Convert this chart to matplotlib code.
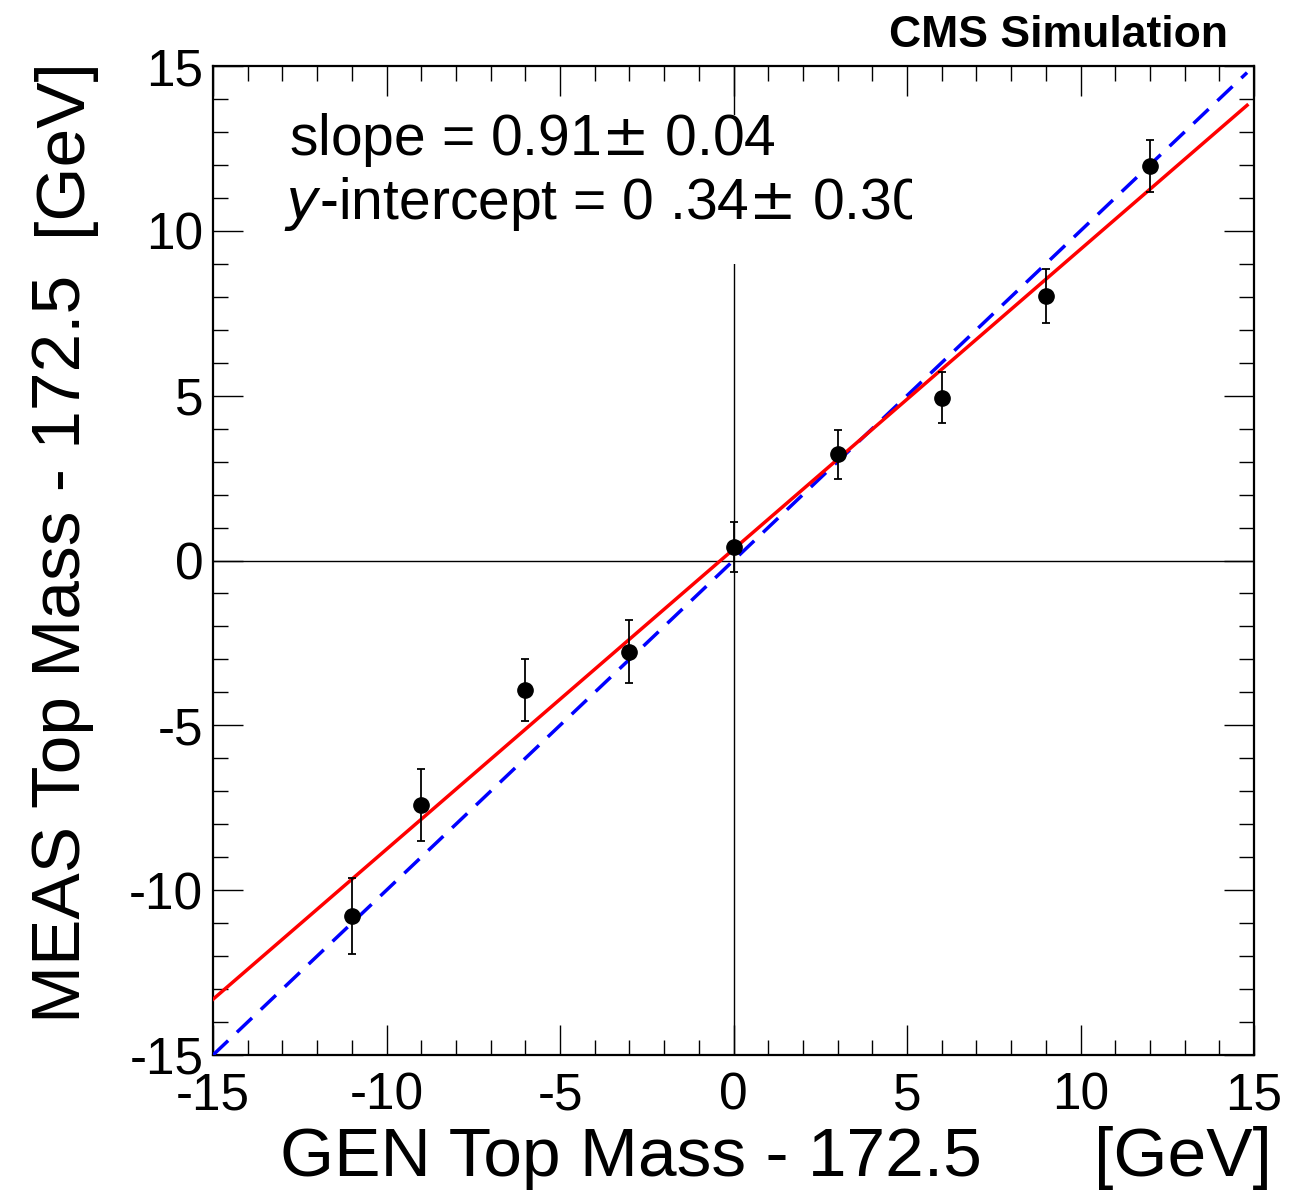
import matplotlib.pyplot as plt
from matplotlib.ticker import MultipleLocator
from matplotlib.patches import Rectangle
from matplotlib.transforms import Bbox, TransformedBbox

plt.rcParams['font.family'] = ['Liberation Sans', 'DejaVu Sans']
plt.rcParams['axes.unicode_minus'] = False

# generated top mass shifts and measured values (GeV, relative to 172.5)
gen = [-11, -9, -6, -3, 0, 3, 6, 9, 12]
meas = [-10.78, -7.42, -3.93, -2.77, 0.42, 3.22, 4.94, 8.02, 11.97]
meas_err = [1.16, 1.09, 0.94, 0.95, 0.76, 0.74, 0.78, 0.82, 0.80]

# linear fit result shown in the box
fit_slope = 0.91
fit_intercept = 0.34
fit_range = [-15, 14.8]
ideal_range = [-15, 14.8]

fig = plt.figure(figsize=(13.09, 11.90), dpi=100)
ax = fig.add_axes([213/1309, 1 - 1055/1190, (1254 - 213)/1309, (1055 - 66)/1190])

ax.set_xlim(-15, 15)
ax.set_ylim(-15, 15)

ax.axhline(0, color='black', lw=1.0, zorder=1)
ax.axvline(0, color='black', lw=1.0, zorder=1)

# white pave behind the fit text (hides the zero line)
ax.add_patch(Rectangle((-13.8, 9.0), 18.94, 4.5, facecolor='white',
                       edgecolor='none', zorder=2))

ax.plot(ideal_range, ideal_range, color='blue', lw=2.5, ls=(0, (6, 3.5)), zorder=3)
fit_y = [fit_slope * x + fit_intercept for x in fit_range]
ax.plot(fit_range, fit_y, color='red', lw=2.5, zorder=4)

ax.errorbar(gen, meas, yerr=meas_err, fmt='o', color='black', ms=11,
            elinewidth=1.3, capsize=3, capthick=1.3, zorder=5)

ax.xaxis.set_major_locator(MultipleLocator(5))
ax.yaxis.set_major_locator(MultipleLocator(5))
ax.xaxis.set_minor_locator(MultipleLocator(1))
ax.yaxis.set_minor_locator(MultipleLocator(1))
ax.tick_params(which='both', direction='in', top=True, right=True, width=1.0)
ax.tick_params(which='major', length=21.6)
ax.tick_params(which='minor', length=10.8)
ax.tick_params(axis='x', labelsize=37, pad=12)
ax.tick_params(axis='y', labelsize=37, pad=7)
for s in ax.spines.values():
    s.set_linewidth(1.6)

# the pave cuts the text off on its right side
clip = TransformedBbox(Bbox([[-15, -15], [5.14, 15]]), ax.transData)
t1 = ax.text(-12.8, 12.3, 'slope = 0.91$\\pm$ 0.04', fontsize=41, zorder=6)
t2 = ax.text(-12.95, 10.35, '$\\it{y}$-intercept = 0 .34$\\pm$ 0.30', fontsize=41, zorder=6)
for t in (t1, t2):
    t.set_clip_box(clip)
    t.set_clip_on(True)

fig.text(280/1309, 1 - 1176/1190, 'GEN Top Mass - 172.5', fontsize=50,
         ha='left', va='baseline')
fig.text(1272/1309, 1 - 1176/1190, '[GeV]', fontsize=50, ha='right', va='baseline')
fig.text(80/1309, 1 - 1023/1190, 'MEAS Top Mass - 172.5', fontsize=50,
         rotation=90, rotation_mode='anchor', ha='left', va='baseline')
fig.text(80/1309, 1 - 57/1190, '[GeV]', fontsize=50,
         rotation=90, rotation_mode='anchor', ha='right', va='baseline')

fig.text(1228/1309, 1 - 47/1190, 'CMS Simulation', fontsize=32,
         fontweight='bold', ha='right', va='baseline')

fig.savefig('out.png', dpi=100)
